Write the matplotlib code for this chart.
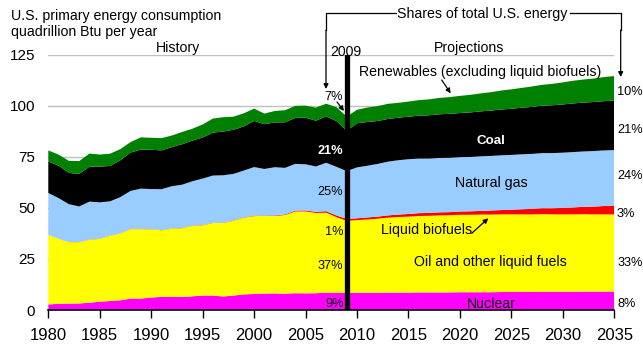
import matplotlib
matplotlib.use("Agg")
import matplotlib.pyplot as plt
import numpy as np

plt.rcParams['font.family'] = ['Liberation Sans', 'DejaVu Sans']

# quadrillion Btu per year, 1980-2009 history, 2010-2035 projections
years = list(range(1980, 2036))

nuclear_hist = [2.74, 3.01, 3.13, 3.20, 3.55, 4.08, 4.38, 4.75, 5.59, 5.60,
                6.10, 6.42, 6.48, 6.41, 6.69, 7.08, 7.09, 6.60, 7.07, 7.61,
                7.86, 8.03, 8.14, 7.96, 8.22, 8.16, 8.21, 8.46, 8.43, 8.36]
nuclear_proj = [8.4, 8.4, 8.4, 8.5, 8.5, 8.5, 8.6, 8.6, 8.6, 8.6, 8.7, 8.7, 8.7,
                8.7, 8.8, 8.8, 8.8, 8.8, 8.9, 8.9, 8.9, 8.9, 9.0, 9.0, 9.0, 9.0]

oil_hist = [34.1, 31.8, 30.1, 30.0, 30.9, 30.7, 32.0, 32.7, 34.0, 34.0,
            33.4, 32.6, 33.3, 33.6, 34.5, 34.4, 35.5, 36.0, 36.6, 37.6,
            38.1, 38.0, 37.9, 38.5, 40.0, 40.1, 39.3, 39.2, 37.0, 35.3]
oil_proj = [35.6, 35.9, 36.3, 36.7, 37.0, 37.2, 37.4, 37.5, 37.7, 37.8, 37.9, 37.9, 38.0,
            38.0, 38.0, 38.0, 38.0, 38.0, 38.0, 37.9, 37.9, 37.9, 37.9, 37.8, 37.8, 37.8]

biofuels_hist = [0.05, 0.05, 0.07, 0.08, 0.1, 0.1, 0.1, 0.1, 0.1, 0.1,
                 0.1, 0.1, 0.1, 0.12, 0.13, 0.14, 0.12, 0.14, 0.15, 0.16,
                 0.2, 0.2, 0.25, 0.3, 0.4, 0.45, 0.55, 0.7, 0.85, 0.9]
biofuels_proj = [0.9, 1.0, 1.0, 1.1, 1.2, 1.3, 1.4, 1.4, 1.5, 1.5, 1.6, 1.7, 1.8,
                 2.0, 2.1, 2.3, 2.5, 2.7, 2.9, 3.0, 3.2, 3.4, 3.6, 3.8, 4.1, 4.3]

gas_hist = [20.4, 19.9, 18.5, 17.4, 18.5, 17.8, 16.7, 17.7, 18.6, 19.7,
            19.6, 20.0, 20.7, 21.2, 21.7, 22.7, 23.1, 23.2, 22.8, 22.9,
            23.8, 22.8, 23.6, 22.8, 22.9, 22.6, 22.2, 23.7, 23.8, 23.4]
gas_proj = [24.9, 25.3, 25.8, 26.3, 26.6, 26.8, 26.7, 26.6, 26.6, 26.6, 26.6, 26.6, 26.7,
            26.7, 26.8, 26.8, 26.9, 26.9, 27.0, 27.0, 27.0, 27.1, 27.1, 27.2, 27.2, 27.2]

coal_hist = [15.4, 15.9, 15.3, 15.9, 17.1, 17.5, 17.3, 18.0, 18.8, 19.1,
             19.2, 19.0, 19.1, 19.8, 19.9, 20.1, 21.0, 21.4, 21.6, 21.6,
             22.6, 21.9, 21.9, 22.3, 22.5, 22.8, 22.4, 22.7, 22.4, 19.7]
coal_proj = [21.6, 21.4, 21.0, 20.9, 20.8, 20.8, 21.0, 21.2, 21.4, 21.5, 21.6, 21.8, 22.0,
             22.2, 22.4, 22.6, 22.8, 23.0, 23.2, 23.4, 23.6, 23.8, 23.9, 24.0, 24.1, 24.2]

renew_hist = [5.4, 5.4, 5.9, 6.3, 6.4, 5.9, 6.0, 5.5, 5.1, 6.0,
              5.9, 6.0, 5.7, 6.0, 5.8, 6.4, 6.9, 7.0, 6.4, 6.4,
              6.0, 5.2, 5.6, 5.9, 5.9, 5.9, 6.4, 6.2, 6.8, 7.0]
renew_proj = [6.6, 7.1, 7.3, 7.4, 7.3, 7.4, 7.6, 7.8, 8.0, 8.2, 8.4, 8.6, 8.8,
              9.0, 9.3, 9.5, 9.7, 10.0, 10.2, 10.5, 10.8, 11.1, 11.3, 11.5, 11.8, 12.0]

colors = ['#FF00FF', '#FFFF00', '#FF0000', '#99CCFF', '#000000', '#008000']

shares_2009 = ['9%', '37%', '1%', '25%', '21%', '7%']
shares_2035 = ['8%', '33%', '3%', '24%', '21%', '10%']

W, H = 643, 359
fig = plt.figure(figsize=(W / 100, H / 100), dpi=100)
ax = fig.add_axes([48.3 / W, 1 - 310 / H, 566 / W, 255.4 / H])

stack = [nuclear_hist + nuclear_proj, oil_hist + oil_proj,
         biofuels_hist + biofuels_proj, gas_hist + gas_proj,
         coal_hist + coal_proj, renew_hist + renew_proj]
ax.stackplot(years, *stack, colors=colors, linewidth=0, zorder=2)

ax.set_xlim(1980, 2035)
ax.set_ylim(0, 125)
ax.set_yticks([0, 25, 50, 75, 100, 125])
ax.set_xticks(range(1980, 2036, 5))
ax.grid(axis='y', color='#C0C0C0', linewidth=1, zorder=0)
ax.set_axisbelow(True)
for s in ['left', 'right', 'top']:
    ax.spines[s].set_visible(False)
ax.spines['bottom'].set_linewidth(1.2)
ax.spines['bottom'].set_zorder(5)
ax.tick_params(axis='y', length=0, pad=9.5, labelsize=11)
ax.tick_params(axis='x', length=5.4, width=1, pad=7.5, labelsize=12)

ax.axvline(2009, color='black', linewidth=3.8, zorder=4)

# overlay in pixel coordinates for the annotations
ov = fig.add_axes([0, 0, 1, 1])
ov.set_xlim(0, W)
ov.set_ylim(H, 0)
ov.axis('off')
ov.patch.set_alpha(0)

fs = 10.2
pfs = 9.2


def label(x, y, s, ha='left', **kw):
    ov.text(x, y, s, ha=ha, va='baseline', fontsize=kw.pop('fontsize', fs), **kw)


def arrow(x0, y0, x1, y1):
    ov.annotate('', xy=(x1, y1), xytext=(x0, y0),
                arrowprops=dict(arrowstyle='-|>', color='black', lw=0.9,
                                mutation_scale=7, shrinkA=0, shrinkB=0))


label(11, 20, 'U.S. primary energy consumption')
label(11, 36, 'quadrillion Btu per year')
label(178, 52, 'History', ha='center')
label(469.5, 52, 'Projections', ha='center')
label(346, 56, '2009', ha='center')

# bracket "Shares of total U.S. energy"
label(482.5, 18, 'Shares of total U.S. energy', ha='center')
ov.plot([326, 326, 396], [30, 13.3, 13.3], color='black', lw=0.9)
ov.plot([570, 620.7, 620.7], [13.3, 13.3, 30], color='black', lw=0.9)
arrow(326, 30, 326, 89)
arrow(620.7, 30, 620.7, 77)

# category labels
label(480.5, 76, 'Renewables (excluding liquid biofuels)', ha='center')
arrow(441.7, 80, 450.7, 93.3)
label(491, 144, 'Coal', ha='center', color='white', fontweight='bold', fontsize=9.6)
label(491, 187.3, 'Natural gas', ha='center')
label(381, 234, 'Liquid biofuels')
arrow(471.7, 233.3, 488.3, 218.3)
label(490.5, 265.7, 'Oil and other liquid fuels', ha='center')
label(491, 308.3, 'Nuclear', ha='center')

# shares in 2009 (left of the line)
left_y = [307.3, 269.3, 235, 195, 154, 100]
for s, y in zip(shares_2009, left_y):
    if s == '21%':
        label(343.5, y, s, ha='right', color='white', fontweight='bold',
              fontsize=pfs)
    elif s == '7%':
        label(334, y, s, ha='center', fontsize=pfs)
    else:
        label(343.5, y, s, ha='right', fontsize=pfs)
arrow(337, 102, 344, 111)

# shares in 2035 (right edge)
right_y = [307.3, 266, 216.7, 179.3, 132.7, 95]
for s, y in zip(shares_2035, right_y):
    label(617 if s != '33%' else 618, y, s, fontsize=pfs)

fig.savefig('out.png', dpi=100)
